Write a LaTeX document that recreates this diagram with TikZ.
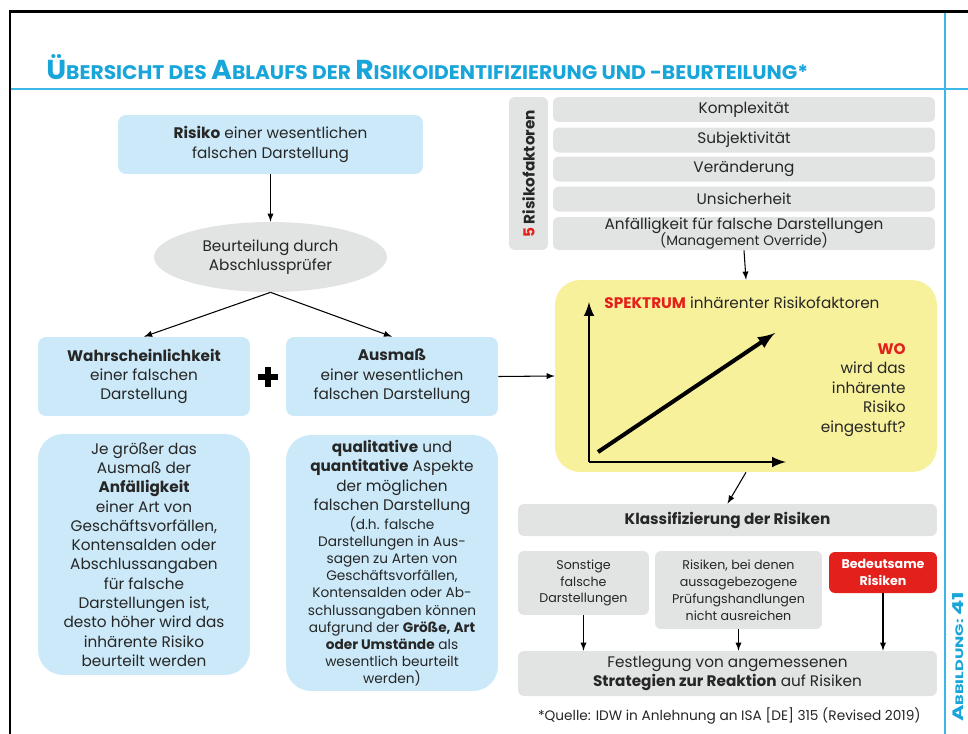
\documentclass[tikz,border=0pt]{standalone}
\usepackage{graphicx}
\usepackage{fontspec}
\setmainfont{Poppins}
\usetikzlibrary{shapes.geometric}
\usetikzlibrary{arrows}
\usetikzlibrary{positioning}

\definecolor{boxblue}{HTML}{CBE9F8}
\definecolor{boxgray}{HTML}{E2E3E3}
\definecolor{boxyellow}{HTML}{F8F19C}
\definecolor{boxred}{HTML}{E3201B}
\definecolor{titleblue}{HTML}{17A5DA}
\definecolor{lineblue}{HTML}{3DB7E8}
\definecolor{txtgray}{HTML}{262626}

\newcommand\fakesc[2]{{\fontsize{16}{16}\selectfont #1}{\fontsize{11.5}{12}\selectfont #2}}
\newcommand\mainsize{\fontsize{8.7}{11}\selectfont}
\newcommand\smallsize{\fontsize{7.2}{9.6}\selectfont}
\newcommand\notesize{\fontsize{7.8}{9.7}\selectfont}

\begin{document}
\begin{tikzpicture}[x=0.02cm,y=-0.02cm,
  every node/.style={text=txtgray, font=\mainsize, align=center, inner sep=0pt},
  bluebox/.style={fill=boxblue, rounded corners=0.16cm, minimum width=4.24cm, minimum height=1.58cm},
  bigbox/.style={fill=boxblue, rounded corners=0.5cm, minimum width=4.24cm},
  graybox/.style={fill=boxgray, rounded corners=0.12cm},
  factor/.style={graybox, minimum width=7.64cm, minimum height=0.5cm},
  conn/.style={-latex, line width=0.6pt, draw=black},
  axis/.style={-latex, line width=1.7pt, draw=black}
]
\useasboundingbox (0,0) rectangle (968,734);

% frame and title
\draw [lineblue, line width=0.8pt] (10,89) -- (968,89);
\draw [lineblue, line width=0.8pt] (945,12) -- (945,734);
\draw [line width=0.06cm, line cap=rect] (10,734) -- (10,11) -- (968,11);
\node [anchor=base west, text=titleblue, font=\bfseries] (title) at (46,79)
  {\resizebox{15.24cm}{0.5cm}{\fakesc{Ü}{BERSICHT DES }\fakesc{A}{BLAUFS DER }\fakesc{R}{ISIKOIDENTIFIZIERUNG UND -BEURTEILUNG*}}};
\node [rotate=90, text=titleblue, font=\bfseries] (fig) at (958,657)
  {\resizebox{2.6cm}{0.22cm}{\fakesc{A}{BBILDUNG: }\fakesc{41}{}}};

% left part
\node [bluebox, minimum width=6.1cm, minimum height=1.18cm] (risk) at (270.5,144.5)
  {\textbf{Risiko} einer wesentlichen\\falschen Darstellung};
\node [ellipse, fill=boxgray, minimum width=4.66cm, minimum height=1.4cm] (judge) at (270.5,257)
  {Beurteilung durch\\Abschlussprüfer};
\node [bluebox] (prob) at (144,376.5) {\textbf{Wahrscheinlichkeit}\\einer falschen\\Darstellung};
\node [bluebox] (extent) at (392,376.5) {\textbf{Ausmaß}\\einer wesentlichen\\falschen Darstellung};
\draw [line width=0.12cm] (258,377) -- (278,377) (268,367) -- (268,387);
\node [bigbox, minimum height=4.82cm] (likely) at (144,554.5)
  {Je größer das\\Ausmaß der\\\textbf{Anfälligkeit}\\einer Art von\\Geschäftsvorfällen,\\Kontensalden oder\\Abschlussangaben\\für falsche\\Darstellungen ist,\\desto höher wird das\\inhärente Risiko\\beurteilt werden};
\node [bigbox, minimum height=5.12cm, font=\notesize] (aspects) at (392,563)
  {\mainsize\textbf{qualitative} und\\[1.3pt]\mainsize\textbf{quantitative} Aspekte\\[1.3pt]\mainsize der möglichen\\[1.3pt]\mainsize falschen Darstellung\\[1.3pt]
   (d.h. falsche\\Darstellungen in Aus-\\sagen zu Arten von\\Geschäftsvorfällen,\\Kontensalden oder Ab-\\schlussangaben können\\aufgrund der \textbf{Größe, Art}\\\textbf{oder Umstände} als\\wesentlich beurteilt\\werden)};
\draw [conn] (risk) -- (judge);
\draw [conn] (judge.south) -- (prob.north);
\draw [conn] (judge.south) -- (extent.north);

% right part
\node [graybox, rotate=90, minimum width=3.06cm, minimum height=0.78cm, font=\mainsize\bfseries] (nfac) at (528.5,173.5)
  {\textcolor{boxred}{5} Risikofaktoren};
\foreach \name/\y/\txt in {f1/109.5/Komplexität, f2/140/Subjektivität, f3/169/Veränderung, f4/199/Unsicherheit}
  \node [factor] (\name) at (744,\y) {\txt};
\node [factor, minimum height=0.66cm] (f5) at (744,233.5)
  {Anfälligkeit für falsche Darstellungen\\[-2pt]\notesize (Management Override)};
\node [fill=boxyellow, rounded corners=0.5cm, minimum width=7.64cm, minimum height=3.84cm] (spec) at (746,376) {};
\node [anchor=west] (spectitle) at (604,303) {\textcolor{boxred}{\textbf{SPEKTRUM}} inhärenter Risikofaktoren};
\node [anchor=north east, align=right, font=\fontsize{8.7}{11.1}\selectfont] (where) at (906,343)
  {\textcolor{boxred}{\textbf{WO}}\\wird das\\inhärente\\Risiko\\eingestuft?};
\draw [axis] (589,462) -- (589,302);
\draw [axis] (589,462) -- (786,462);
\draw [-latex, line width=2.3pt] (598,452) -- (775,333);
\node [graybox, minimum width=8.38cm, minimum height=0.64cm, font=\mainsize\bfseries] (class) at (727.5,520)
  {Klassifizierung der Risiken};
\node [graybox, minimum width=2.62cm, minimum height=1.28cm, font=\smallsize] (other) at (583.5,583)
  {Sonstige\\falsche\\Darstellungen};
\node [graybox, minimum width=3.34cm, minimum height=1.56cm, font=\smallsize] (subst) at (738.5,590)
  {Risiken, bei denen\\aussagebezogene\\Prüfungshandlungen\\nicht ausreichen};
\node [fill=boxred, rounded corners=0.12cm, minimum width=2.16cm, minimum height=0.82cm, text=white, font=\smallsize\bfseries] (sig) at (883,572.5)
  {Bedeutsame\\Risiken};
\node [graybox, minimum width=8.38cm, minimum height=0.9cm] (resp) at (727.5,673.5)
  {Festlegung von angemessenen\\\textbf{Strategien zur Reaktion} auf Risiken};
\node [anchor=east, font=\notesize] (src) at (921,716) {*Quelle: IDW in Anlehnung an ISA [DE] 315 (Revised 2019)};
\draw [conn] (f5.south) -- (spec.north);
\draw [conn] (extent.east) -- (spec.west);
\draw [conn] (spec.south) -- (class.north);
\draw [conn] (other.south) -- (other.south |- resp.north);
\draw [conn] (subst.south) -- (subst.south |- resp.north);
\draw [conn] (sig.south) -- (sig.south |- resp.north);
\end{tikzpicture}
\end{document}
